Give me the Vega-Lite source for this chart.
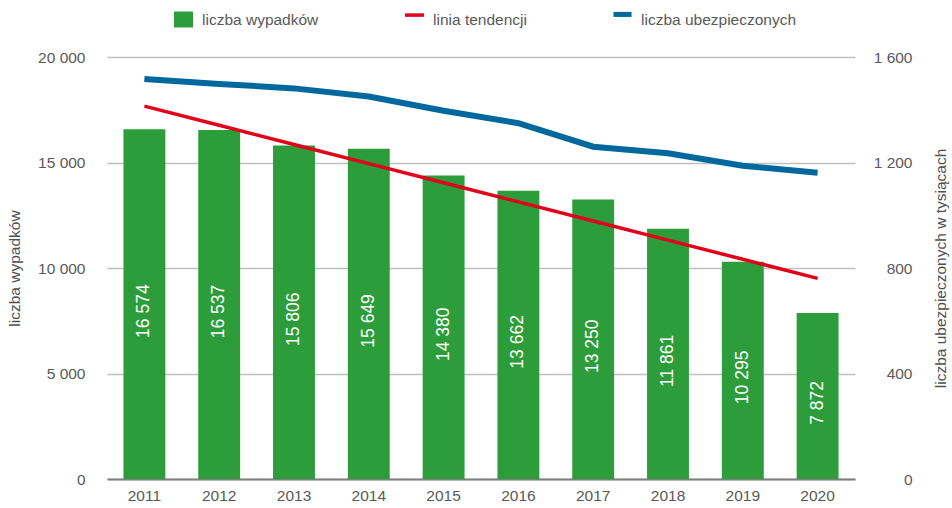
{
  "$schema": "https://vega.github.io/schema/vega-lite/v6.json",
  "autosize": {"type": "none"},
  "width": 748,
  "height": 422,
  "padding": {"left": 107, "top": 57, "right": 97, "bottom": 29},
  "config": {
    "font": "Liberation Sans, Arial, sans-serif",
    "locale": {"number": {"decimal": ",", "thousands": " ", "grouping": [3], "currency": ["", ""]}},
    "view": {"stroke": null}
  },
  "data": {
    "values": [
      {"rok": "2011", "wypadki": 16574, "trend": 17670, "ubezpieczeni": 1517},
      {"rok": "2012", "wypadki": 16537, "trend": 16763, "ubezpieczeni": 1498},
      {"rok": "2013", "wypadki": 15806, "trend": 15856, "ubezpieczeni": 1481},
      {"rok": "2014", "wypadki": 15649, "trend": 14949, "ubezpieczeni": 1450},
      {"rok": "2015", "wypadki": 14380, "trend": 14042, "ubezpieczeni": 1396},
      {"rok": "2016", "wypadki": 13662, "trend": 13135, "ubezpieczeni": 1349},
      {"rok": "2017", "wypadki": 13250, "trend": 12228, "ubezpieczeni": 1260},
      {"rok": "2018", "wypadki": 11861, "trend": 11321, "ubezpieczeni": 1235},
      {"rok": "2019", "wypadki": 10295, "trend": 10414, "ubezpieczeni": 1188},
      {"rok": "2020", "wypadki": 7872, "trend": 9507, "ubezpieczeni": 1161}
    ]
  },
  "encoding": {
    "x": {
      "field": "rok", "type": "ordinal",
      "scale": {"paddingInner": 0.44, "paddingOuter": 0.22},
      "axis": {
        "title": null, "labelAngle": 0, "ticks": false, "tickSize": 0,
        "domainColor": "#7f7f7f", "domainWidth": 2,
        "labelFontSize": 15.5, "labelColor": "#595959", "labelPadding": 9, "grid": false
      }
    }
  },
  "layer": [
    {
      "mark": {"type": "bar", "color": "#2c9d3a"},
      "encoding": {
        "y": {
          "field": "wypadki", "type": "quantitative",
          "scale": {"domain": [0, 20000], "nice": false},
          "axis": {
            "title": "liczba wypadków", "values": [0, 5000, 10000, 15000, 20000], "format": ",.0f",
            "ticks": false, "tickSize": 0, "domain": false, "labelPadding": 22,
            "labelFontSize": 15.5, "labelColor": "#595959",
            "gridColor": "#c0c0c0", "gridWidth": 1.5,
            "titleFontSize": 15.5, "titleFontWeight": "normal", "titleColor": "#505050",
            "titleAngle": 270, "titleX": -93, "titleY": 211, "titleAlign": "center", "titleBaseline": "middle"
          }
        },
        "color": {
          "datum": "liczba wypadków", "type": "nominal",
          "scale": {
            "domain": ["liczba wypadków", "linia tendencji", "liczba ubezpieczonych"],
            "range": ["#2c9d3a", "#e2001a", "#00689c"]
          },
          "legend": {
            "title": null, "orient": "none", "direction": "horizontal",
            "legendX": 67, "legendY": -47,
            "labelFontSize": 15.5, "labelColor": "#595959", "labelOffset": 9, "labelLimit": 400,
            "columnPadding": 86, "symbolSize": 361,
            "encode": {
              "symbols": {
                "update": {
                  "shape": {"signal": "datum.value === 'liczba wypadków' ? 'M-1,-0.84H1V0.84H-1Z' : (datum.value === 'linia tendencji' ? 'M-1,-0.65H1V-0.28H-1Z' : 'M-0.95,-0.8H0.95V-0.27H-0.95Z')"},
                  "fill": {"signal": "scale('color', datum.value)"},
                  "stroke": {"value": "transparent"},
                  "strokeWidth": {"value": 0},
                  "opacity": {"value": 1}
                }
              }
            }
          }
        }
      }
    },
    {
      "mark": {"type": "text", "color": "#ffffff", "fontSize": 17.5, "angle": 270, "align": "center", "baseline": "middle", "dx": -7},
      "encoding": {
        "y": {"field": "wypadki", "type": "quantitative", "scale": {"domain": [0, 40000], "nice": false}, "axis": null},
        "text": {"field": "wypadki", "type": "quantitative", "format": ",.0f"}
      }
    },
    {
      "mark": {"type": "line", "strokeWidth": 3.5},
      "encoding": {
        "y": {"field": "trend", "type": "quantitative", "scale": {"domain": [0, 20000], "nice": false}, "axis": null},
        "color": {"datum": "linia tendencji", "type": "nominal"}
      }
    },
    {
      "mark": {"type": "line", "strokeWidth": 6},
      "encoding": {
        "y": {
          "field": "ubezpieczeni", "type": "quantitative",
          "scale": {"domain": [0, 1600], "nice": false},
          "axis": {
            "orient": "right", "title": "liczba ubezpieczonych w tysiącach",
            "values": [0, 400, 800, 1200, 1600], "format": ",.0f",
            "ticks": false, "tickSize": 0, "domain": false, "grid": false,
            "labelAlign": "right", "labelPadding": 57,
            "labelFontSize": 15.5, "labelColor": "#595959",
            "titleFontSize": 15.5, "titleFontWeight": "normal", "titleColor": "#505050",
            "titleAngle": 270, "titleX": 85, "titleY": 211, "titleAlign": "center", "titleBaseline": "middle"
          }
        },
        "color": {"datum": "liczba ubezpieczonych", "type": "nominal"}
      }
    }
  ],
  "resolve": {"scale": {"y": "independent"}}
}
